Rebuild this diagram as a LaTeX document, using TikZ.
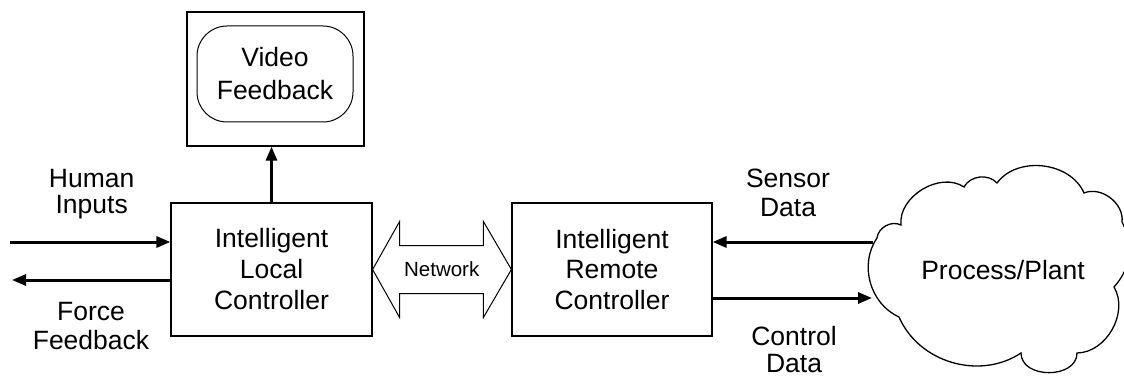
\documentclass[tikz,border=0pt]{standalone}
\usepackage{fontspec}
\setmainfont{Liberation Sans}
\usetikzlibrary{arrows.meta,calc}
\begin{document}
\begin{tikzpicture}[x=1pt,y=-1pt,
  font=\fontsize{26.5}{31}\selectfont,
  box/.style={draw,line width=1.2pt,minimum width=201pt,minimum height=133pt,
    inner sep=0pt,align=center},
  lbl/.style={align=center,inner sep=0pt},
  flow/.style={line width=3pt,-{Triangle[length=14pt,width=11pt]}},
  thin line/.style={line width=1pt}]
\useasboundingbox (0,0) rectangle (1124,377);

% controllers
\node[box] (local) at (271.5,269.5) {Intelligent\\Local\\Controller};
\node[box,minimum width=200pt,font=\fontsize{26.5}{30.3}\selectfont]
  (remote) at (612,269.5) {Intelligent\\Remote\\Controller};

% monitor with its screen
\node[draw,line width=1.2pt,minimum width=177pt,minimum height=134pt,inner sep=0pt]
  (monitor) at (275.5,79) {};
\node[draw,line width=1pt,rounded corners=30pt,minimum width=156pt,minimum height=96pt,
  inner sep=0pt,align=center,font=\fontsize{26.5}{33}\selectfont]
  (screen) at (275,74) {Video\\Feedback};

% network link
\draw[thin line] (local.east) -- ++(27,-48) -- ++(0,24)
  -- ($(remote.west)+(-28,-24)$) -- ++(0,-24) -- (remote.west)
  -- ++(-28,48) -- ++(0,-24) -- ($(local.east)+(27,24)$) -- ++(0,24) -- cycle;
\node[inner sep=0pt,anchor=base,font=\fontsize{20.5}{23}\selectfont]
  (net) at (441.7,276.7) {Network};

% process cloud
\draw[line width=1.3pt] (877,238) to[bend left=55] (901,225)
  to[bend left=65] (964,187) to[bend left=55] (997,183)
  to[bend left=60] (1084,193) to[bend left=60] (1122,222)
  to[bend left=35] (1114,287) to[bend left=60] (1077,353)
  to[bend left=90,looseness=1.2] (1021,353) to[bend left=50] (899,317)
  to[bend left=50] (877,238) -- cycle;
\node[inner sep=0pt,anchor=base,font=\fontsize{26.5}{31}\selectfont]
  (plant) at (1003,279) {Process/Plant};

% signal arrows
\coordinate (hin) at (10,242);
\coordinate (fout) at (12,280);
\coordinate (sin) at (873,242);
\coordinate (cout) at (872,298);
\draw[flow] (hin) -- (hin -| local.west);
\draw[flow] (fout -| local.west) -- (fout);
\draw[flow] (local.north) -- (local.north |- monitor.south);
\draw[flow] (sin) -- (sin -| remote.east);
\draw[flow] (cout -| remote.east) -- (cout);

% signal labels
\node[lbl,font=\fontsize{26.5}{26}\selectfont] (hinlbl) at (91.7,194.6) {Human\\Inputs};
\node[lbl,font=\fontsize{26.5}{29}\selectfont] (foutlbl) at (91,326) {Force\\Feedback};
\node[lbl,font=\fontsize{26.5}{29}\selectfont] (sinlbl) at (788,193) {Sensor\\Data};
\node[lbl,font=\fontsize{26.5}{27}\selectfont] (coutlbl) at (794,350) {Control\\Data};
\end{tikzpicture}
\end{document}
